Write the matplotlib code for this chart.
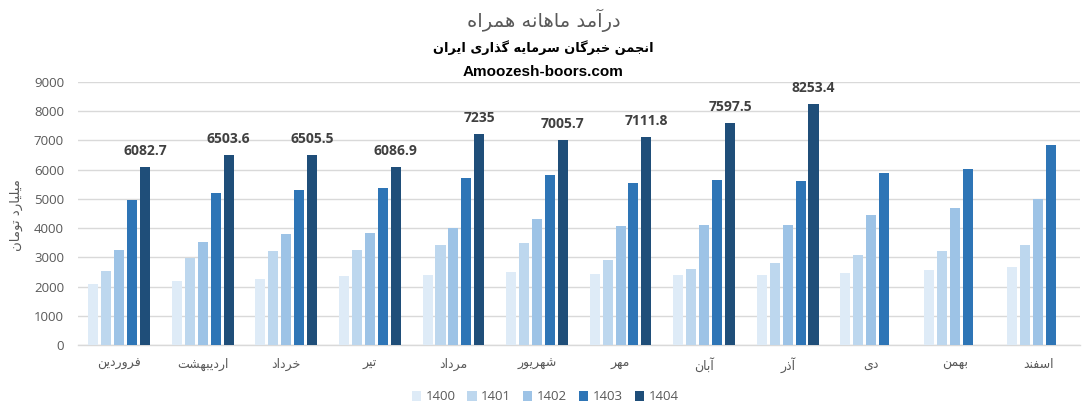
import numpy as np
import matplotlib
matplotlib.use("Agg")
import matplotlib.pyplot as plt
from matplotlib import font_manager
from matplotlib.patches import Patch

# ---------------- data ----------------
months = ['فروردین', 'اردیبهشت', 'خرداد', 'تیر', 'مرداد', 'شهریور',
          'مهر', 'آبان', 'آذر', 'دی', 'بهمن', 'اسفند']
years = ['1400', '1401', '1402', '1403', '1404']
y1400 = [2090, 2190, 2260, 2360, 2400, 2500, 2430, 2400, 2400, 2470, 2570, 2670]
y1401 = [2530, 2990, 3220, 3250, 3420, 3490, 2910, 2600, 2810, 3080, 3220, 3420]
y1402 = [3250, 3530, 3800, 3840, 4010, 4320, 4080, 4110, 4110, 4450, 4690, 5000]
y1403 = [4970, 5200, 5310, 5380, 5720, 5820, 5550, 5650, 5620, 5890, 6030, 6850]
y1404 = [6082.7, 6503.6, 6505.5, 6086.9, 7235, 7005.7, 7111.8, 7597.5, 8253.4,
         np.nan, np.nan, np.nan]
series = [y1400, y1401, y1402, y1403, y1404]
colors = ['#DEEBF7', '#BDD7EE', '#9DC3E6', '#2E75B6', '#1F4E79']

title1 = 'درآمد ماهانه همراه'
title2 = 'انجمن خبرگان سرمایه گذاری ایران'
title3 = 'Amoozesh-boors.com'
ylabel = 'میلیارد تومان'

# ---------------- minimal Persian shaping ----------------
FORMS = {
    'ا': (0xFE8D, 0xFE8E), 'آ': (0xFE81, 0xFE82), 'د': (0xFEA9, 0xFEAA),
    'ذ': (0xFEAB, 0xFEAC), 'ر': (0xFEAD, 0xFEAE), 'ز': (0xFEAF, 0xFEB0),
    'و': (0xFEED, 0xFEEE),
    'ب': (0xFE8F, 0xFE90, 0xFE91, 0xFE92), 'ت': (0xFE95, 0xFE96, 0xFE97, 0xFE98),
    'ج': (0xFE9D, 0xFE9E, 0xFE9F, 0xFEA0), 'خ': (0xFEA5, 0xFEA6, 0xFEA7, 0xFEA8),
    'س': (0xFEB1, 0xFEB2, 0xFEB3, 0xFEB4), 'ش': (0xFEB5, 0xFEB6, 0xFEB7, 0xFEB8),
    'ف': (0xFED1, 0xFED2, 0xFED3, 0xFED4), 'ل': (0xFEDD, 0xFEDE, 0xFEDF, 0xFEE0),
    'م': (0xFEE1, 0xFEE2, 0xFEE3, 0xFEE4), 'ن': (0xFEE5, 0xFEE6, 0xFEE7, 0xFEE8),
    'ه': (0xFEE9, 0xFEEA, 0xFEEB, 0xFEEC), 'ی': (0xFBFC, 0xFBFD, 0xFBFE, 0xFBFF),
    'گ': (0xFB92, 0xFB93, 0xFB94, 0xFB95), 'ک': (0xFB8E, 0xFB8F, 0xFB90, 0xFB91),
}
FALLBACK = {
    0xFBFC: 0xFEEF, 0xFBFD: 0xFEF0, 0xFBFE: 0xFEF3, 0xFBFF: 0xFEF4,
    0xFB92: 0xFED9, 0xFB93: 0xFEDA, 0xFB94: 0xFEDB, 0xFB95: 0xFEDC,
    0xFB8E: 0xFED9, 0xFB8F: 0xFEDA, 0xFB90: 0xFEDB, 0xFB91: 0xFEDC,
}
try:
    from fontTools.ttLib import TTFont
    _cmap = TTFont(font_manager.findfont('DejaVu Sans')).getBestCmap()
except Exception:
    _cmap = None


def shape(text):
    chars = list(text)
    out = []
    for i, c in enumerate(chars):
        if c not in FORMS:
            out.append(c)
            continue
        prev = chars[i - 1] if i > 0 else None
        nxt = chars[i + 1] if i + 1 < len(chars) else None
        cp = prev is not None and prev in FORMS and len(FORMS[prev]) == 4
        cn = len(FORMS[c]) == 4 and nxt is not None and nxt in FORMS
        f = FORMS[c]
        if cp and cn:
            g = f[3]
        elif cp:
            g = f[1]
        elif cn:
            g = f[2]
        else:
            g = f[0]
        if _cmap is not None and g not in _cmap and g in FALLBACK:
            g = FALLBACK[g]
        out.append(chr(g))
    return ''.join(reversed(out))


# ---------------- figure ----------------
W, H = 1087, 412
fig = plt.figure(figsize=(W / 100, H / 100), dpi=100)
ax = fig.add_axes([77.5 / W, 1 - 345 / H, (1080 - 77.5) / W, (345 - 82) / H])

x = np.arange(len(months))
bw = 0.12
step = 0.155
for j, (vals, col) in enumerate(zip(series, colors)):
    ax.bar(x + (j - 2) * step, vals, width=bw, color=col, zorder=3)

for xi, v in zip(x, y1404):
    if not np.isnan(v):
        ax.annotate('{:g}'.format(v), (xi + 2 * step, v), xytext=(0, 9),
                    textcoords='offset pixels', ha='center', va='bottom',
                    fontsize=10, fontweight='bold', color='#404040',
                    family=['Open Sans', 'DejaVu Sans'])

ax.set_xlim(-0.5, len(months) - 0.5)
ax.set_ylim(0, 9000)
ax.set_yticks(np.arange(0, 9001, 1000))
ax.yaxis.grid(True, color='#D9D9D9', linewidth=1, zorder=0)
ax.set_axisbelow(True)
for s in ['top', 'right', 'left']:
    ax.spines[s].set_visible(False)
ax.spines['bottom'].set_color('#D9D9D9')
ax.spines['bottom'].set_linewidth(1)
ax.tick_params(axis='both', length=0, colors='#595959')
ax.tick_params(axis='y', pad=9.7, labelsize=9.5)
ax.set_xticks(x)
ax.set_xticklabels([shape(m) for m in months], fontsize=9,
                   family='DejaVu Sans', color='#595959')
ax.tick_params(axis='x', pad=9)
for lab in ax.get_yticklabels():
    lab.set_family(['Open Sans', 'DejaVu Sans'])

fig.text(16 / W, 1 - 215 / H, shape(ylabel), rotation=90, ha='center',
         va='center', fontsize=9.5, color='#595959', family='DejaVu Sans')

fig.text(0.5, 1 - 20 / H, shape(title1), ha='center', va='center',
         fontsize=14, color='#595959', family='DejaVu Sans')
fig.text(0.5, 1 - 48 / H, shape(title2), ha='center', va='center',
         fontsize=9.3, color='black', family='DejaVu Sans', fontweight='bold')
fig.text(0.5, 1 - 72 / H, title3, ha='center', va='center',
         fontsize=11, color='black', family='Liberation Sans', fontweight='bold')

handles = [Patch(facecolor=c, edgecolor='none') for c in colors]
fig.legend(handles, years, loc='center', bbox_to_anchor=(545 / W, 1 - 397 / H),
           ncol=5, frameon=False, handlelength=0.7,
           handleheight=0.7, handletextpad=0.35, columnspacing=0.9,
           labelcolor='#595959', prop={'family': ['Open Sans'], 'size': 9.5})

fig.savefig('out.png', dpi=100)
